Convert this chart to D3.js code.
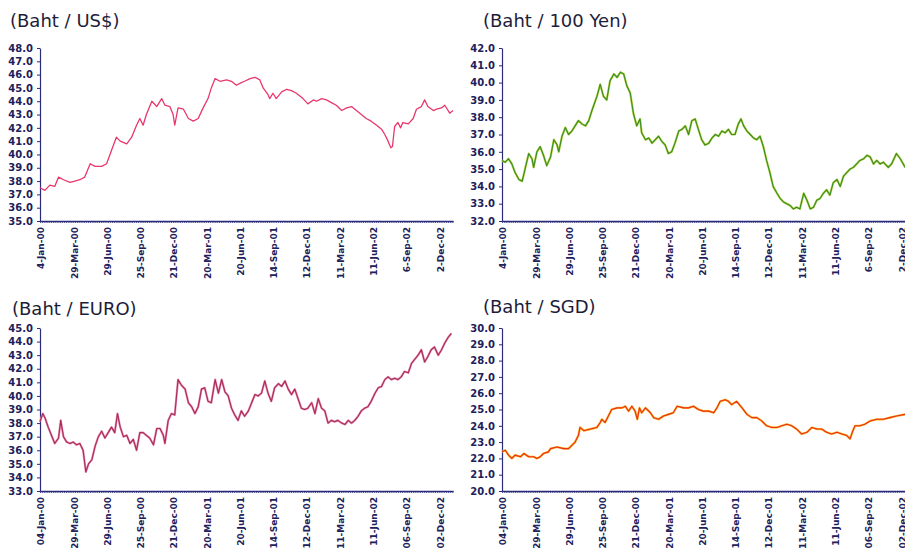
<!DOCTYPE html>
<html>
<head>
<meta charset="utf-8">
<script src="https://cdn.jsdelivr.net/npm/d3@7"></script>
<style>
  body { margin: 0; background: #fff; }
  text { font-family: "DejaVu Sans", sans-serif; }
</style>
</head>
<body>
<svg id="chart" width="905" height="548"></svg>
<script>
// trading-day index of each labelled date (day 0 = 4-Jan-00, last day = 757)
var tickDays = [2, 63, 124, 185, 246, 307, 368, 429, 490, 551, 612, 673, 734];
var topLabels = ["4-Jan-00", "29-Mar-00", "29-Jun-00", "25-Sep-00", "21-Dec-00", "20-Mar-01",
  "20-Jun-01", "14-Sep-01", "12-Dec-01", "11-Mar-02", "11-Jun-02", "6-Sep-02", "2-Dec-02"];
var bottomLabels = ["04-Jan-00", "29-Mar-00", "29-Jun-00", "25-Sep-00", "21-Dec-00", "20-Mar-01",
  "20-Jun-01", "14-Sep-01", "12-Dec-01", "11-Mar-02", "11-Jun-02", "06-Sep-02", "02-Dec-02"];

// [trading day, baht]
var usd = [[0,37.5],[9,37.3],[18,37.7],[27,37.6],[34,38.3],[43,38.1],[55,37.9],[64,38.0],[73,38.1],[82,38.3],
  [92,39.3],[101,39.1],[113,39.1],[122,39.3],[131,40.3],[140,41.3],[147,41.0],[159,40.8],[168,41.3],[177,42.2],
  [183,42.7],[189,42.2],[195,43.0],[205,44.0],[214,43.6],[223,44.2],[229,43.7],[238,43.6],[244,43.0],[247,42.2],
  [253,43.5],[263,43.4],[272,42.7],[281,42.5],[290,42.7],[299,43.5],[308,44.2],[314,45.0],[321,45.7],[330,45.5],
  [342,45.6],[351,45.5],[360,45.2],[369,45.4],[375,45.5],[385,45.7],[394,45.8],[403,45.6],[409,45.0],[418,44.5],
  [421,44.2],[427,44.6],[433,44.2],[443,44.7],[452,44.9],[461,44.8],[470,44.6],[482,44.2],[491,43.8],[501,44.1],
  [507,44.0],[516,44.2],[525,44.1],[534,43.9],[543,43.7],[553,43.3],[562,43.5],[571,43.6],[580,43.3],[589,43.0],
  [598,42.7],[607,42.5],[617,42.2],[626,41.9],[632,41.5],[638,41.0],[643,40.5],[646,40.6],[650,42.1],[656,42.4],
  [661,42.0],[665,42.4],[675,42.3],[684,42.7],[690,43.4],[699,43.6],[705,44.1],[711,43.6],[721,43.3],[727,43.4],
  [736,43.5],[742,43.7],[751,43.1],[757,43.3]];

var yen = [[0,35.5],[6,35.4],[12,35.6],[18,35.3],[24,34.8],[31,34.4],[37,34.3],[43,35.1],[49,35.9],[55,35.6],
  [58,35.1],[64,36.0],[70,36.3],[76,35.8],[82,35.2],[89,35.7],[95,36.7],[101,36.4],[104,36.0],[110,36.9],
  [116,37.4],[122,37.0],[128,37.2],[134,37.5],[140,37.8],[147,37.6],[153,37.5],[159,37.8],[165,38.4],[174,39.2],
  [180,39.9],[186,39.2],[192,39.0],[198,40.1],[205,40.5],[211,40.3],[217,40.6],[223,40.5],[229,39.8],[235,39.4],
  [241,38.2],[247,37.5],[253,37.9],[256,37.1],[263,36.7],[269,36.8],[275,36.5],[281,36.7],[287,36.9],[293,36.6],
  [299,36.4],[305,35.9],[311,36.0],[317,36.5],[324,37.2],[330,37.3],[336,37.5],[342,37.0],[348,37.8],[354,37.9],
  [360,37.3],[366,36.7],[372,36.4],[379,36.5],[385,36.8],[391,37.0],[397,36.9],[403,37.2],[409,37.1],[415,37.3],
  [421,37.0],[427,37.0],[433,37.6],[438,37.9],[443,37.5],[449,37.2],[455,37.0],[461,36.8],[467,36.7],[473,36.9],
  [479,36.3],[485,35.5],[491,34.8],[497,34.0],[504,33.6],[510,33.3],[516,33.1],[522,33.0],[528,32.9],[534,32.7],
  [540,32.8],[546,32.7],[553,33.6],[559,33.2],[565,32.7],[571,32.8],[577,33.2],[583,33.3],[589,33.6],[595,33.8],
  [601,33.5],[607,34.2],[614,34.4],[620,34.0],[626,34.6],[632,34.8],[638,35.0],[644,35.1],[650,35.3],[656,35.5],
  [663,35.6],[669,35.8],[675,35.7],[681,35.3],[687,35.5],[693,35.3],[699,35.4],[708,35.1],[714,35.3],[723,35.9],
  [730,35.6],[739,35.1]];

var euro = [[0,38.1],[5,38.7],[9,38.4],[15,37.7],[21,37.1],[27,36.5],[34,36.9],[38,38.2],[43,37.0],[49,36.6],
  [55,36.5],[61,36.6],[67,36.4],[73,36.5],[79,36.0],[84,34.4],[89,35.0],[95,35.3],[101,36.3],[107,37.0],
  [113,37.4],[119,36.9],[125,37.3],[131,37.7],[137,37.3],[142,38.7],[147,37.7],[153,37.0],[159,37.1],[165,36.5],
  [171,36.8],[177,36.0],[183,37.3],[189,37.3],[195,37.1],[201,36.9],[208,36.4],[214,37.6],[220,37.6],[226,37.1],
  [229,36.5],[235,38.2],[241,38.7],[247,38.6],[253,41.2],[259,40.8],[266,40.5],[272,39.5],[278,39.2],[284,38.7],
  [290,39.2],[296,40.5],[302,40.6],[308,39.6],[314,39.5],[321,41.2],[327,40.2],[333,41.2],[339,40.3],[345,40.0],
  [351,39.1],[357,38.6],[363,38.2],[369,38.9],[375,38.5],[382,38.9],[388,39.5],[394,40.1],[400,40.0],[406,40.2],
  [412,41.1],[418,40.2],[424,39.6],[430,40.6],[437,40.9],[443,40.7],[449,41.1],[455,40.5],[461,40.1],[467,40.5],
  [473,39.8],[479,39.1],[485,39.0],[491,39.1],[498,39.5],[504,38.7],[510,39.8],[516,39.1],[522,38.9],[528,38.0],
  [534,38.2],[540,38.1],[546,38.2],[553,38.0],[559,37.9],[565,38.2],[571,38.0],[577,38.2],[583,38.5],[589,38.9],
  [595,39.1],[601,39.2],[607,39.6],[614,40.2],[620,40.6],[626,40.7],[632,41.2],[638,41.4],[644,41.2],[650,41.3],
  [656,41.2],[662,41.4],[668,41.8],[675,41.7],[681,42.4],[687,42.7],[693,43.0],[699,43.4],[705,42.5],[711,42.9],
  [717,43.4],[723,43.6],[730,43.0],[736,43.4],[742,43.9],[748,44.3],[754,44.6]];

var sgd = [[0,22.4],[6,22.5],[12,22.2],[18,22.0],[24,22.2],[34,22.1],[40,22.3],[49,22.1],[58,22.1],[64,22.0],
  [70,22.1],[76,22.3],[85,22.4],[89,22.6],[101,22.7],[113,22.6],[122,22.6],[128,22.8],[134,23.0],[140,23.4],
  [143,23.9],[150,23.7],[162,23.8],[174,23.9],[180,24.2],[183,24.4],[189,24.2],[195,24.6],[201,25.0],[211,25.1],
  [220,25.1],[226,25.2],[232,24.9],[238,25.2],[244,24.9],[248,24.4],[252,25.1],[256,24.8],[263,25.1],[272,24.8],
  [278,24.5],[287,24.4],[296,24.6],[305,24.7],[314,24.8],[321,25.2],[333,25.1],[342,25.1],[351,25.2],[360,25.0],
  [369,24.9],[379,24.9],[388,24.8],[394,25.1],[400,25.5],[409,25.6],[415,25.5],[421,25.3],[430,25.5],[440,25.1],
  [449,24.7],[458,24.5],[467,24.5],[476,24.3],[485,24.0],[495,23.9],[504,23.9],[513,24.0],[522,24.1],[531,24.0],
  [540,23.8],[549,23.5],[559,23.6],[568,23.9],[577,23.8],[586,23.8],[595,23.6],[604,23.5],[614,23.6],[623,23.5],
  [632,23.4],[638,23.2],[642,23.6],[647,24.0],[656,24.0],[665,24.1],[675,24.3],[687,24.4],[699,24.4],[711,24.5],
  [723,24.6],[739,24.7]];

var svg = d3.select("#chart");
var navy = "#2b2b7c";

function drawPanel(p) {
    var g = svg.append("g");

    var x = d3.scaleLinear().domain([0, 757]).range([p.left, p.left + 413]);
    var y = d3.scaleLinear().domain([p.min, p.max]).range([p.bottom, p.top]);

    // title
    g.append("text")
        .attr("x", p.tx).attr("y", p.ty)
        .attr("font-family", "Liberation Sans, Arial, sans-serif")
        .attr("font-size", 18)
        .attr("fill", "#1d1d3a")
        .text(p.title);

    // y axis
    var yAxis = d3.axisLeft(y)
        .tickValues(d3.range(p.min, p.max + 0.01, 1))
        .tickFormat(d3.format(".1f"))
        .tickSizeInner(3).tickSizeOuter(0).tickPadding(4);
    var ya = g.append("g").attr("transform", "translate(" + p.left + ",0)").call(yAxis);
    ya.select(".domain").attr("stroke", navy).attr("stroke-width", 1.2);
    ya.selectAll(".tick line").attr("stroke", navy);
    ya.selectAll(".tick text")
        .attr("font-family", "DejaVu Sans, sans-serif")
        .attr("font-weight", "bold")
        .attr("font-size", 10)
        .attr("fill", "#20205a");

    // x axis: dense hatch of small ticks
    var xAxis = d3.axisBottom(x)
        .tickValues(d3.range(0, 758, 4))
        .tickFormat("")
        .tickSizeInner(2).tickSizeOuter(0);
    var xa = g.append("g").attr("transform", "translate(0," + p.bottom + ")").call(xAxis);
    xa.select(".domain").attr("stroke", navy).attr("stroke-width", 1.6);
    xa.selectAll(".tick line").attr("stroke", navy).attr("stroke-width", 0.8);

    // rotated date labels
    g.selectAll(".lbl").data(p.labels).enter().append("text")
        .attr("transform", function (d, i) {
            return "translate(" + x(tickDays[i]) + "," + (p.bottom + 6) + ") rotate(-90)";
        })
        .attr("text-anchor", "end")
        .attr("dy", "0.35em")
        .attr("font-family", "DejaVu Sans, sans-serif")
        .attr("font-weight", "bold")
        .attr("font-size", 9)
        .attr("fill", "#20205a")
        .text(function (d) { return d; });

    var line = d3.line()
        .x(function (d) { return x(d[0]); })
        .y(function (d) { return y(d[1]); });

    if (p.under) {
        g.append("path").datum(p.data)
            .attr("d", line).attr("fill", "none")
            .attr("stroke", p.under).attr("stroke-width", 2.2)
            .attr("stroke-linejoin", "round");
    }
    g.append("path").datum(p.data)
        .attr("d", line).attr("fill", "none")
        .attr("stroke", p.color).attr("stroke-width", p.width)
        .attr("stroke-linejoin", "round");
}

drawPanel({ title: "(Baht / US$)", tx: 10, ty: 27, left: 40, top: 48, bottom: 221,
    min: 35, max: 48, data: usd, color: "#e8386b", width: 1.3, labels: topLabels });
drawPanel({ title: "(Baht / 100 Yen)", tx: 483, ty: 27, left: 502, top: 48, bottom: 221,
    min: 32, max: 42, data: yen, color: "#3a8a2a", under: "#b4d640", width: 1.1, labels: topLabels });
drawPanel({ title: "(Baht / EURO)", tx: 12, ty: 315, left: 40, top: 328, bottom: 491,
    min: 33, max: 45, data: euro, color: "#a82a5c", under: "#e890b0", width: 1.1, labels: bottomLabels });
drawPanel({ title: "(Baht / SGD)", tx: 483, ty: 313, left: 502, top: 328, bottom: 491,
    min: 20, max: 30, data: sgd, color: "#e8301a", under: "#ffb020", width: 1.1, labels: bottomLabels });
</script>
</body>
</html>
